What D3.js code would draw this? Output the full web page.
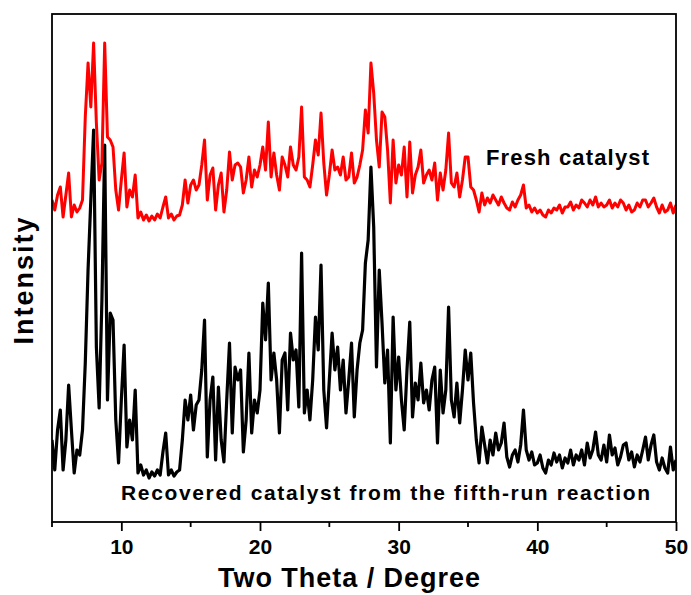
<!DOCTYPE html>
<html>
<head>
<meta charset="utf-8">
<script src="https://cdn.jsdelivr.net/npm/d3@7"></script>
<style>
  body { margin: 0; background: #fff; }
  text { font-family: 'Liberation Sans', Arial, sans-serif; font-weight: bold; }
</style>
</head>
<body>
<div id="chart"></div>
<script>
// 2-theta grid: 5.0 .. 50.0 in 0.2 degree steps (10 values per row = 2 degrees)
const thetaStart = 5
const thetaStep = 0.2

// Fresh catalyst (red), intensity in a.u.
const freshIntensity = [
  322, 312, 327, 335, 305, 327, 349, 305, 317, 310,
  314, 322, 405, 459, 415, 479, 399, 342, 359, 479,
  385, 382, 375, 332, 312, 342, 369, 315, 332, 325,
  347, 304, 310, 302, 307, 301, 306, 302, 308, 304,
  315, 325, 304, 308, 302, 306, 307, 317, 342, 319,
  337, 342, 332, 337, 357, 382, 322, 347, 354, 312,
  337, 349, 310, 332, 370, 342, 357, 359, 355, 329,
  342, 365, 335, 352, 345, 357, 375, 352, 400, 345,
  369, 347, 332, 365, 357, 345, 375, 357, 352, 365,
  415, 345, 342, 335, 357, 382, 367, 409, 359, 327,
  347, 372, 352, 355, 347, 365, 342, 345, 369, 339,
  345, 357, 372, 412, 389, 459, 429, 382, 355, 410,
  405, 372, 319, 382, 339, 357, 347, 375, 325, 380,
  329, 347, 355, 372, 339, 347, 352, 342, 359, 322,
  349, 332, 352, 389, 339, 335, 349, 325, 342, 365,
  365, 335, 332, 322, 310, 329, 317, 324, 319, 327,
  322, 317, 325, 319, 314, 312, 320, 315, 322, 327,
  337, 314, 317, 310, 314, 309, 312, 307, 305, 312,
  309, 314, 312, 317, 309, 315, 315, 320, 312, 317,
  314, 322, 319, 315, 322, 317, 325, 315, 319, 315,
  317, 322, 314, 319, 315, 322, 319, 312, 317, 310,
  312, 319, 315, 322, 322, 315, 319, 324, 315, 309,
  317, 310, 312, 319, 309, 317
]

// Recovered catalyst after fifth run (black), intensity in a.u.
const recoveredIntensity = [
  82, 52, 92, 112, 52, 82, 137, 92, 49, 72,
  67, 92, 159, 252, 322, 392, 175, 114, 222, 377,
  122, 209, 202, 102, 59, 122, 177, 75, 102, 82,
  132, 49, 57, 47, 52, 44, 50, 46, 52, 47,
  70, 89, 47, 52, 46, 50, 52, 82, 122, 102,
  127, 92, 117, 122, 152, 202, 65, 122, 145, 62,
  135, 82, 60, 122, 179, 89, 155, 142, 152, 70,
  102, 169, 89, 122, 109, 132, 219, 182, 239, 142,
  169, 142, 89, 162, 169, 112, 189, 162, 172, 115,
  269, 109, 132, 102, 142, 205, 172, 257, 132, 94,
  142, 189, 152, 175, 132, 162, 109, 142, 179, 105,
  152, 179, 192, 259, 282, 355, 295, 155, 252, 199,
  139, 172, 79, 205, 132, 165, 122, 92, 152, 200,
  105, 139, 122, 159, 119, 132, 112, 142, 155, 79,
  152, 109, 132, 215, 122, 105, 139, 99, 132, 172,
  142, 169, 119, 82, 59, 95, 77, 59, 82, 67,
  89, 72, 79, 99, 65, 55, 67, 72, 60, 77,
  112, 72, 62, 70, 57, 59, 67, 54, 49, 62,
  57, 69, 60, 67, 54, 64, 59, 72, 57, 67,
  62, 72, 57, 79, 64, 72, 90, 67, 62, 77,
  60, 87, 67, 74, 57, 65, 77, 79, 62, 70,
  55, 67, 60, 72, 85, 62, 77, 87, 60, 52,
  64, 54, 49, 75, 52, 62
]

const majorTicks = [10, 20, 30, 40, 50]
const minorTicks = [5, 15, 25, 35, 45]
const freshLabel = 'Fresh catalyst'
const recoveredLabel = 'Recovered catalyst from the fifth-run reaction'

const margin = { top: 14, left: 52, right: 15, bottom: 73 }
const totalWidth = 691
const totalHeight = 595
const width = totalWidth - margin.left - margin.right
const height = totalHeight - margin.top - margin.bottom

const svg = d3
  .select('#chart')
  .append('svg')
  .attr('width', totalWidth)
  .attr('height', totalHeight)
  .append('g')
  .attr('transform', 'translate(' + margin.left + ',' + margin.top + ')')

const xPositionScale = d3.scaleLinear().domain([5, 50]).range([0, width])
const yPositionScale = d3.scaleLinear().domain([0, 508]).range([height, 0])

const toPoints = values => values.map((v, i) => ({ theta: thetaStart + i * thetaStep, intensity: v }))

const line = d3
  .line()
  .x(d => xPositionScale(d.theta))
  .y(d => yPositionScale(d.intensity))

svg.append('clipPath')
  .attr('id', 'plot-clip')
  .append('rect')
  .attr('width', width)
  .attr('height', height)

const traces = svg.append('g').attr('clip-path', 'url(#plot-clip)')

traces.append('path')
  .datum(toPoints(recoveredIntensity))
  .attr('fill', 'none')
  .attr('stroke', '#000')
  .attr('stroke-width', 3.2)
  .attr('stroke-linejoin', 'round')
  .attr('d', line)

traces.append('path')
  .datum(toPoints(freshIntensity))
  .attr('fill', 'none')
  .attr('stroke', '#ff0000')
  .attr('stroke-width', 3)
  .attr('stroke-linejoin', 'round')
  .attr('d', line)

// frame
svg.append('rect')
  .attr('width', width)
  .attr('height', height)
  .attr('fill', 'none')
  .attr('stroke', '#000')
  .attr('stroke-width', 1.8)

// x axis
const xAxis = d3.axisBottom(xPositionScale)
  .tickValues(majorTicks)
  .tickSize(9)
  .tickPadding(8)
  .tickFormat(d3.format('d'))

const xAxisG = svg.append('g')
  .attr('class', 'axis x-axis')
  .attr('transform', 'translate(0,' + height + ')')
  .call(xAxis)

xAxisG.select('.domain').remove()
xAxisG.selectAll('line').attr('stroke-width', 1.8)
xAxisG.selectAll('text')
  .attr('font-size', 21)
  .attr('fill', '#000')
  .attr('font-family', "'Liberation Sans', Arial, sans-serif")
  .attr('font-weight', 'bold')

svg.append('g')
  .selectAll('line')
  .data(minorTicks)
  .enter().append('line')
  .attr('x1', d => xPositionScale(d))
  .attr('x2', d => xPositionScale(d))
  .attr('y1', height)
  .attr('y2', height + 5)
  .attr('stroke', '#000')
  .attr('stroke-width', 1.8)

// axis titles
svg.append('text')
  .attr('x', 297)
  .attr('y', height + 65)
  .attr('text-anchor', 'middle')
  .attr('font-size', 27)
  .attr('textLength', 262)
  .attr('lengthAdjust', 'spacing')
  .text('Two Theta / Degree')

svg.append('text')
  .attr('transform', 'rotate(-90)')
  .attr('x', -267)
  .attr('y', -19)
  .attr('text-anchor', 'middle')
  .attr('font-size', 27)
  .attr('textLength', 127)
  .attr('lengthAdjust', 'spacing')
  .text('Intensity')

// series labels
svg.append('text')
  .attr('x', 434)
  .attr('y', 151)
  .attr('font-size', 22)
  .attr('textLength', 163)
  .attr('lengthAdjust', 'spacing')
  .text(freshLabel)

svg.append('text')
  .attr('x', 69)
  .attr('y', 486)
  .attr('font-size', 21)
  .attr('textLength', 529)
  .attr('lengthAdjust', 'spacing')
  .text(recoveredLabel)
</script>
</body>
</html>
